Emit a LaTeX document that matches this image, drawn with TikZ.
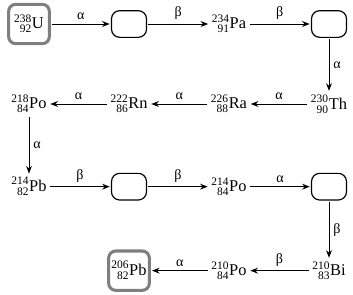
\documentclass[tikz,border=0pt]{standalone}
\usepackage{mathtools}
\usepackage{fontspec}
\setmainfont{Liberation Serif}
\usepackage{tikz}
\usetikzlibrary{positioning, arrows.meta}
\definecolor{boxGray}{HTML}{7F7F7F}
\newcommand{\nuc}[3]{$\prescript{\text{#1}}{\text{#2}}{\text{#3}}$}

\begin{document}
\begin{tikzpicture}[
  nuc/.style={font=\fontsize{14}{16}\selectfont, inner sep=2pt},
  endbox/.style={draw=boxGray, line width=2.6pt, rounded corners=6pt,
                 minimum width=1.22cm, minimum height=1.18cm,
                 font=\fontsize{14}{16}\selectfont, inner sep=1pt},
  blank/.style={draw, line width=1pt, rounded corners=7pt,
                minimum width=1.05cm, minimum height=0.8cm},
  arr/.style={-{Stealth[length=6.5pt, width=5pt]}, line width=0.8pt,
              shorten >=1pt, shorten <=1pt},
  lbl/.style={font=\fontsize{12}{14}\selectfont}
]
\useasboundingbox (-0.87,0.72) rectangle (9.72,-8.1);

% row 1
\node[endbox] (u238) at (0,0) {\nuc{238}{92}{U}};
\node[blank] (b1) at (3,0) {};
\node[nuc] (pa234) at (6,0) {\nuc{234}{91}{Pa}};
\node[blank] (b2) at (9,0) {};
% row 2
\node[nuc] (th230) at (9,-2.4) {\nuc{230}{90}{Th}};
\node[nuc] (ra226) at (6,-2.4) {\nuc{226}{88}{Ra}};
\node[nuc] (rn222) at (3,-2.4) {\nuc{222}{86}{Rn}};
\node[nuc] (po218) at (0,-2.4) {\nuc{218}{84}{Po}};
% row 3
\node[nuc] (pb214) at (0,-4.88) {\nuc{214}{82}{Pb}};
\node[blank] (b3) at (3,-4.88) {};
\node[nuc] (po214) at (6,-4.88) {\nuc{214}{84}{Po}};
\node[blank] (b4) at (9,-4.88) {};
% row 4
\node[nuc] (bi210) at (9,-7.4) {\nuc{210}{83}{Bi}};
\node[nuc] (po210) at (6,-7.4) {\nuc{210}{84}{Po}};
\node[endbox] (pb206) at (3,-7.4) {\nuc{206}{82}{Pb}};

\draw[arr] (u238) -- node[above, lbl] {α} (b1);
\draw[arr] (b1) -- node[above, lbl] {β} (pa234);
\draw[arr] (pa234) -- node[above, lbl] {β} (b2);
\draw[arr] (b2) -- node[right, lbl] {α} (th230);
\draw[arr] (th230) -- node[above, lbl] {α} (ra226);
\draw[arr] (ra226) -- node[above, lbl] {α} (rn222);
\draw[arr] (rn222) -- node[above, lbl] {α} (po218);
\draw[arr] (po218) -- node[right, lbl] {α} (pb214);
\draw[arr] (pb214) -- node[above, lbl] {β} (b3);
\draw[arr] (b3) -- node[above, lbl] {β} (po214);
\draw[arr] (po214) -- node[above, lbl] {α} (b4);
\draw[arr] (b4) -- node[right, lbl] {β} (bi210);
\draw[arr] (bi210) -- node[above, lbl] {β} (po210);
\draw[arr] (po210) -- node[above, lbl] {α} (pb206);
\end{tikzpicture}
\end{document}
